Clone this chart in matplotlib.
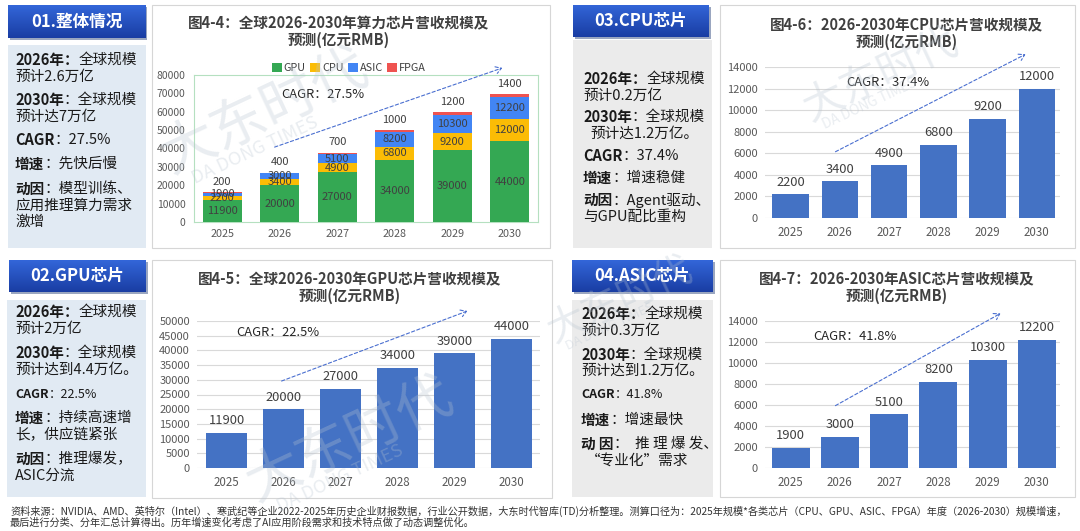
import matplotlib
matplotlib.use('Agg')
import matplotlib.pyplot as plt
import numpy as np
from matplotlib.patches import Rectangle

plt.rcParams['font.family'] = ['Noto Sans CJK SC', 'DejaVu Sans']

# ---------------- data ----------------
years = ['2025', '2026', '2027', '2028', '2029', '2030']
gpu = [11900, 20000, 27000, 34000, 39000, 44000]
cpu = [2200, 3400, 4900, 6800, 9200, 12000]
asic = [1900, 3000, 5100, 8200, 10300, 12200]
fpga = [200, 400, 700, 1000, 1200, 1400]
series_names = ['GPU', 'CPU', 'ASIC', 'FPGA']

cagr_total = 'CAGR：27.5%'
cagr_gpu = 'CAGR：22.5%'
cagr_cpu = 'CAGR：37.4%'
cagr_asic = 'CAGR：41.8%'

title1 = ['图4-4：全球2026-2030年算力芯片营收规模及', '预测(亿元RMB)']
title2 = ['图4-5：全球2026-2030年GPU芯片营收规模及', '预测(亿元RMB)']
title3 = ['图4-6：2026-2030年CPU芯片营收规模及', '预测(亿元RMB)']
title4 = ['图4-7：2026-2030年ASIC芯片营收规模及', '预测(亿元RMB)']

headers = ['01.整体情况', '02.GPU芯片', '03.CPU芯片', '04.ASIC芯片']

footer1 = ('资料来源：NVIDIA、AMD、英特尔（Intel）、寒武纪等企业2022-2025年历史企业财报数据，行业公开数据，'
           '大东时代智库(TD)分析整理。测算口径为：2025年规模*各类芯片（CPU、GPU、ASIC、FPGA）年度（2026-2030）规模增速，')
footer2 = '最后进行分类、分年汇总计算得出。历年增速变化考虑了AI应用阶段需求和技术特点做了动态调整优化。'

# ---------------- figure ----------------
W, H = 1080, 531
fig = plt.figure(figsize=(10.8, 5.31), dpi=100)
fig.patch.set_facecolor('white')
renderer = fig.canvas.get_renderer()

BAR = '#4472C4'
COLS = ['#34A853', '#FBBC05', '#4285F4', '#EF5350']
TXT = '#404040'
TICK = '#595959'


def fy(y):
    return 1 - y / H


def add_axes_px(l, t, r, b):
    return fig.add_axes([l / W, 1 - b / H, (r - l) / W, (b - t) / H])


def rect(l, t, r, b, fc, ec='none', lw=0.8, z=-5):
    fig.add_artist(Rectangle((l / W, fy(b)), (r - l) / W, (b - t) / H,
                             transform=fig.transFigure, facecolor=fc,
                             edgecolor=ec, lw=lw, zorder=z))


def header(l, t, r, b, text):
    rect(l + 2, t + 2, r + 2, b + 2, '#9aa6c0', z=-4)
    ax = add_axes_px(l, t, r, b)
    top = np.array([0.20, 0.40, 0.85])
    bot = np.array([0.10, 0.24, 0.64])
    g = np.linspace(0, 1, 50)[:, None, None]
    img = top * (1 - g) + bot * g
    img = np.repeat(img, 2, axis=1)
    ax.imshow(img, aspect='auto', extent=[0, 1, 0, 1])
    ax.set_axis_off()
    ax.text(0.5, 0.5, text, ha='center', va='center', color='white',
            fontsize=12, fontweight='bold', transform=ax.transAxes)


def rich(x, y, segs, size=10.5, color='#1a1a1a'):
    cx = x
    for s, b in segs:
        t = fig.text(cx / W, fy(y), s, fontsize=size,
                     fontweight='bold' if b else 'normal',
                     va='center', ha='left', color=color, zorder=5)
        cx += t.get_window_extent(renderer).width


def title(lines, xc, ys):
    for ln, y in zip(lines, ys):
        fig.text(xc / W, fy(y), ln, ha='center', va='center', fontsize=10.5,
                 fontweight='bold', color=TXT)


def arrow(x0, y0, x1, y1):
    fig.add_artist(matplotlib.patches.FancyArrowPatch(
        (x0 / W, fy(y0)), (x1 / W, fy(y1)), transform=fig.transFigure,
        arrowstyle='->,head_length=4,head_width=2.5', color='#4a6fd0',
        lw=0.8, linestyle=(0, (3, 2)), zorder=6))


def style_axes(ax, ymax, ystep, grid=True):
    x = np.arange(len(years))
    ax.set_facecolor('none')
    ax.set_ylim(0, ymax)
    ax.set_yticks(np.arange(0, ymax + 1, ystep))
    ax.set_xticks(x)
    ax.set_xticklabels(years)
    ax.tick_params(axis='y', length=0, pad=5, labelsize=8, labelcolor=TICK)
    ax.tick_params(axis='x', length=0, pad=6, labelsize=8.3, labelcolor=TICK)
    for s in ax.spines.values():
        s.set_visible(False)
    if grid:
        ax.yaxis.grid(True, color='#d9d9d9', lw=0.8)
        ax.set_axisbelow(True)


def simple_bar(axpx, xlim, values, ymax, ystep, bw):
    ax = add_axes_px(*axpx)
    x = np.arange(len(years))
    bars = ax.bar(x, values, width=bw, color=BAR, zorder=3)
    ax.set_xlim(*xlim)
    style_axes(ax, ymax, ystep)
    for b, v in zip(bars, values):
        ax.annotate(f'{v}', (b.get_x() + b.get_width() / 2, v),
                    xytext=(0, 4), textcoords='offset points',
                    ha='center', va='bottom', fontsize=9.3, color=TXT)
    return ax


# ---------------- watermarks ----------------
wm = dict(color='#b8c4d0', alpha=0.3, rotation=25, ha='center', va='center',
          zorder=8, fontweight='light')
for (x, y, s) in [(265, 112, 40), (880, 75, 30), (350, 440, 40), (620, 300, 28)]:
    fig.text(x / W, fy(y), '大东时代', fontsize=s, **wm)
    fig.text((x - 10) / W, fy(y + s * 0.95), 'DA DONG TIMES', fontsize=s * 0.33, **wm)

# ---------------- left/right text boxes ----------------
rect(8, 45, 146, 248, '#e1eaf3')
rect(7, 300, 146, 497, '#e1eaf3')
rect(573, 40, 712, 248, '#ebebeb')
rect(572, 300, 713, 497, '#ebebeb')

header(8, 5, 145, 38, headers[0])
header(9, 260, 146, 292, headers[1])
header(573, 5, 709, 37, headers[2])
header(572, 260, 713, 292, headers[3])

B, N = True, False
rich(15, 60, [('2026年：', B), ('全球规模', N)])
rich(15, 77, [('预计2.6万亿', N)])
rich(15, 100, [('2030年', B), ('：全球规模', N)])
rich(15, 117, [('预计达7万亿', N)])
rich(15, 140, [('CAGR', B), ('：27.5%', N)])
rich(15, 164, [('增速', B), ('：先快后慢', N)])
rich(15, 189, [('动因', B), ('：模型训练、', N)])
rich(15, 206, [('应用推理算力需求', N)])
rich(15, 222, [('激增', N)])

rich(15, 312, [('2026年：', B), ('全球规模', N)])
rich(15, 329, [('预计2万亿', N)])
rich(15, 353, [('2030年', B), ('：全球规模', N)])
rich(15, 370, [('预计达到4.4万亿。', N)])
rich(15, 394, [('CAGR', B), ('：22.5%', N)], size=9)
rich(15, 418, [('增速', B), ('：持续高速增', N)])
rich(15, 435, [('长，供应链紧张', N)])
rich(15, 459, [('动因', B), ('：推理爆发，', N)])
rich(15, 476, [('ASIC分流', N)])

rich(583, 79, [('2026年：', B), ('全球规模', N)])
rich(583, 96, [('预计0.2万亿', N)])
rich(583, 117, [('2030年', B), ('：全球规模', N)])
rich(590, 134, [('预计达1.2万亿。', N)])
rich(583, 156, [('CAGR', B), ('：37.4%', N)])
rich(583, 178, [('增速', B), ('：增速稳健', N)])
rich(583, 200, [('动因', B), ('：Agent驱动、', N)])
rich(583, 217, [('与GPU配比重构', N)])

rich(581, 314, [('2026年：', B), ('全球规模', N)])
rich(581, 331, [('预计0.3万亿', N)])
rich(581, 355, [('2030年', B), ('：全球规模', N)])
rich(581, 371, [('预计达到1.2万亿。', N)])
rich(581, 395, [('CAGR', B), ('：41.8%', N)], size=9)
rich(581, 420, [('增速', B), ('：增速最快', N)])
rich(581, 444, [('动 因', B), ('：  推 理 爆 发、', N)])
rich(586, 461, [('“专业化”需求', N)])

# ---------------- chart frames ----------------
for (l, t, r, b) in [(152, 5, 550, 248), (152, 260, 552, 498),
                     (720, 5, 1075, 248), (720, 260, 1075, 497)]:
    rect(l, t, r, b, 'white', ec='#d6d6d6', lw=0.8, z=-6)

# ---------------- chart 1: stacked ----------------
ax1 = add_axes_px(194, 75, 538, 222)
x = np.arange(len(years))
bottom = np.zeros(len(years))
handles = []
for name, vals, c in zip(series_names, [gpu, cpu, asic, fpga], COLS):
    bars = ax1.bar(x, vals, width=0.68, bottom=bottom, color=c, zorder=3, label=name)
    handles.append(bars)
    if name != 'FPGA':
        for xi, bt, v in zip(x, bottom, vals):
            ax1.text(xi, bt + v / 2, f'{v}', ha='center', va='center',
                     fontsize=8, color=TXT, zorder=4)
    else:
        for xi, bt, v in zip(x, bottom, vals):
            ax1.annotate(f'{v}', (xi, bt + v), xytext=(0, 4),
                         textcoords='offset points', ha='center', va='bottom',
                         fontsize=8, color=TXT)
    bottom = bottom + np.array(vals)
ax1.set_xlim(-0.49, 5.49)
style_axes(ax1, 80000, 10000, grid=False)
ax1.tick_params(axis='y', labelsize=7.5, pad=6)
ax1.tick_params(axis='x', labelsize=7.8, pad=5)
for s in ax1.spines.values():
    s.set_visible(True)
    s.set_color('#b5e0c0')
    s.set_linewidth(0.8)
ax1.legend(handles=handles, loc='center', bbox_to_anchor=(349 / W, fy(68)),
           bbox_transform=fig.transFigure, ncol=4, frameon=False, fontsize=7.8,
           handlelength=0.9, handleheight=0.9, handletextpad=0.2,
           columnspacing=0.4, borderpad=0, labelcolor=TXT)
title(title1, 339, [23, 40])
fig.text(323 / W, fy(95), cagr_total, ha='center', va='center', fontsize=9.3, color='#262626')
arrow(272, 148, 505, 67)

# ---------------- chart 2: GPU ----------------
simple_bar((197, 321, 540, 468), (-0.52, 5.5), gpu, 50000, 5000, 0.72)
title(title2, 350, [279, 296])
fig.text(278 / W, fy(332), cagr_gpu, ha='center', va='center', fontsize=9.3, color='#262626')
arrow(279, 382, 470, 310)

# ---------------- chart 3: CPU ----------------
simple_bar((765, 67, 1060, 218), (-0.52, 5.47), cpu, 14000, 2000, 0.74)
title(title3, 907, [25, 42])
fig.text(888 / W, fy(83), cagr_cpu, ha='center', va='center', fontsize=9.3, color='#262626')
arrow(833, 153, 1028, 53)

# ---------------- chart 4: ASIC ----------------
simple_bar((765, 321, 1060, 468), (-0.52, 5.47), asic, 14000, 2000, 0.77)
title(title4, 897, [279, 296])
fig.text(855 / W, fy(337), cagr_asic, ha='center', va='center', fontsize=9.3, color='#262626')
arrow(833, 407, 1003, 312)

# ---------------- footer ----------------
t1 = fig.text(10 / W, fy(511), footer1, ha='left', va='center', fontsize=7, color='#333333')
w = t1.get_window_extent(renderer).width
fs = 7 * 1063 / w
t1.set_fontsize(fs)
fig.text(10 / W, fy(523), footer2, ha='left', va='center', fontsize=fs, color='#333333')

fig.savefig('out.png', dpi=100, facecolor='white')
